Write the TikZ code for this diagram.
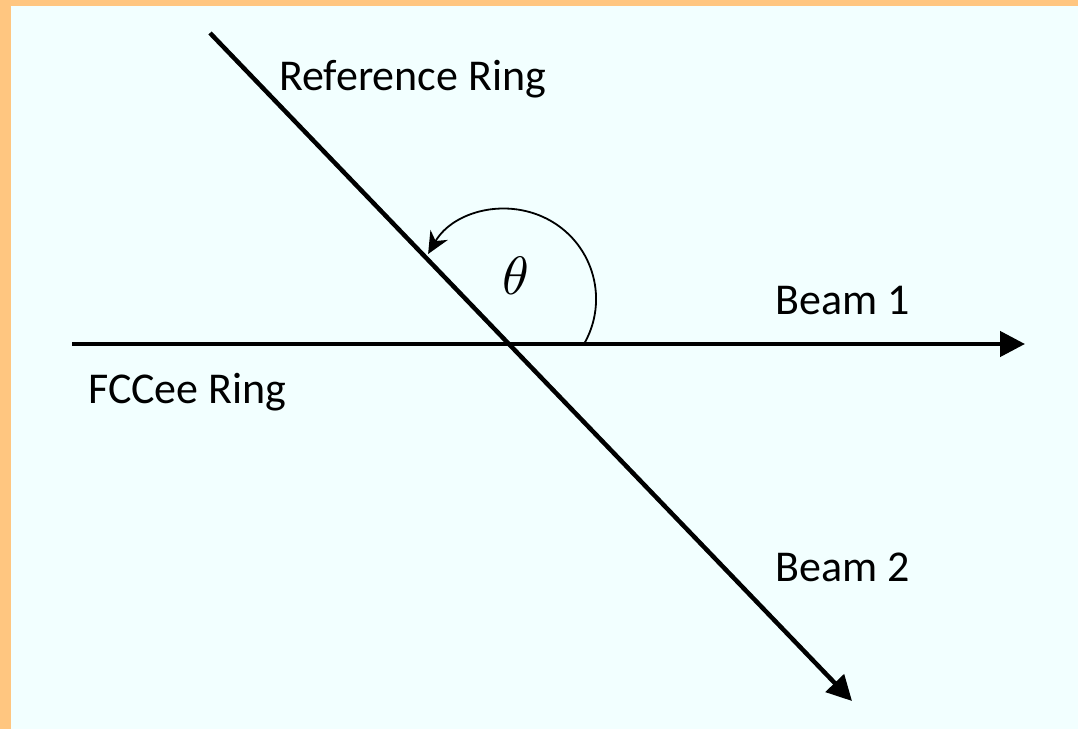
\documentclass[tikz,border=0pt]{standalone}
\usepackage{graphicx}
\usepackage{fontspec}
\setmainfont{Carlito}
\usetikzlibrary{arrows.meta}
\definecolor{bgc}{RGB}{242,255,255}
\definecolor{framec}{RGB}{255,198,128}
\tikzset{
  lbl/.style={anchor=base west, inner sep=0pt, font=\fontsize{44}{50}\selectfont},
  beam/.style={line width=4.5pt, arrows={-Triangle[length=25pt,width=25pt]}},
  anglearc/.style={line width=1.8pt, arrows={-Stealth[length=22pt,width=20pt,inset=7pt]}}
}
\begin{document}
\begin{tikzpicture}[x=1pt,y=1pt]
\useasboundingbox (0,0) rectangle (1078,729);
\fill[framec] (0,0) rectangle (1078,729);
\fill[bgc] (11,0) rectangle (1078,723);
\coordinate (hs) at (72,385);
\coordinate (he) at (1025,385);
\coordinate (ds) at (210,696);
\coordinate (de) at (852,28);
\coordinate (ac) at (506,430);
\coordinate (as) at (584,385);
\draw[beam] (hs) -- (he);
\draw[beam] (ds) -- (de);
\draw[anglearc] (as) arc[start angle=-30, end angle=150, radius=90pt];
\node[inner sep=0pt] (th) at (516,453) {\scalebox{5.4}{$\theta$}};
\node[lbl] (rr) at (279,638) {Reference Ring};
\node[lbl] (fr) at (88,326) {FCCee Ring};
\node[lbl] (b1) at (775,414) {Beam 1};
\node[lbl] (b2) at (775,148) {Beam 2};
\end{tikzpicture}
\end{document}
